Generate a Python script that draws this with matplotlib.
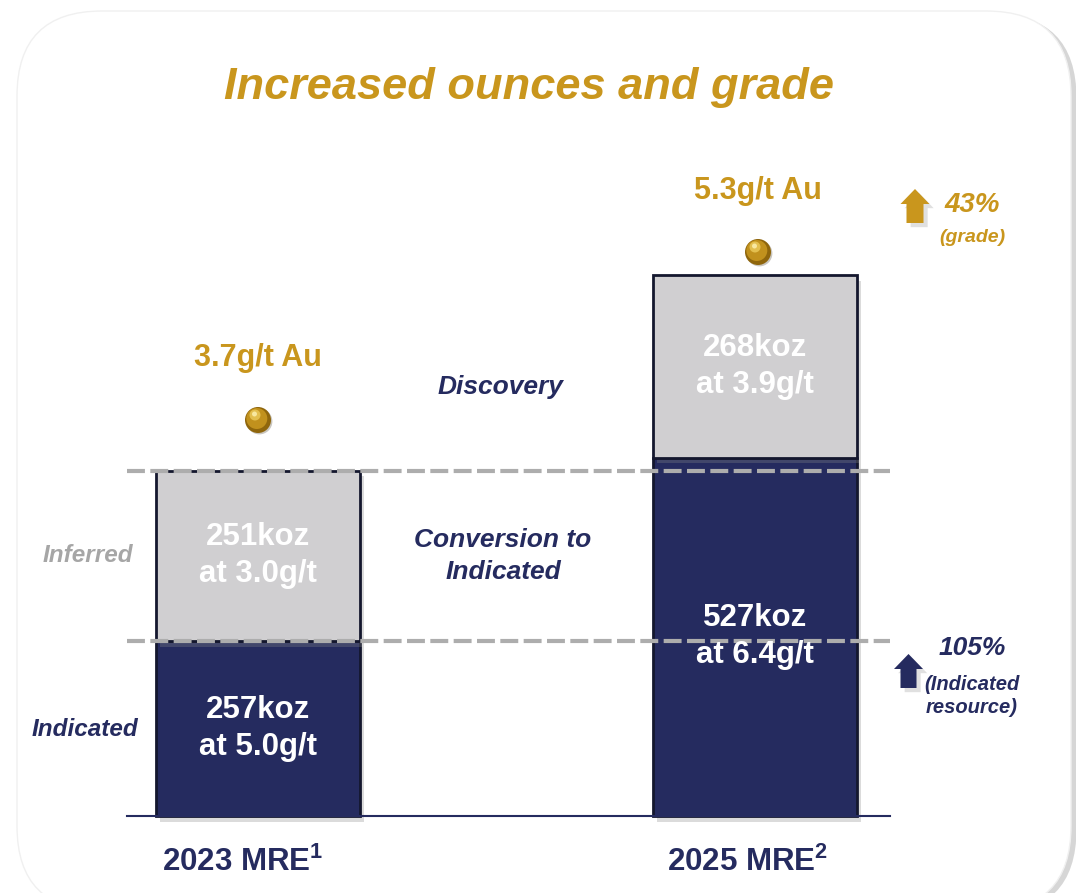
import matplotlib
matplotlib.use("Agg")
import matplotlib.pyplot as plt
from matplotlib.patches import FancyBboxPatch, Polygon, Circle
import matplotlib.patheffects as pe

# ---- data ----
categories = ["2023 MRE$^{\\mathbf{1}}$", "2025 MRE$^{\\mathbf{2}}$"]
indicated_koz = [257, 527]
inferred_koz = [251, 268]
indicated_grade = ["5.0g/t", "6.4g/t"]
inferred_grade = ["3.0g/t", "3.9g/t"]
total_grade = ["3.7g/t Au", "5.3g/t Au"]

NAVY = "#252b5f"
GOLD = "#c9961d"
LGRAY = "#d0cfd1"
TGRAY = "#a6a6a6"

W, H = 1076, 893
plt.rcParams['font.family'] = ['Liberation Sans', 'DejaVu Sans']
plt.rcParams['mathtext.fontset'] = 'custom'
plt.rcParams['mathtext.bf'] = 'Liberation Sans:bold'
plt.rcParams['mathtext.rm'] = 'Liberation Sans:bold'
fig = plt.figure(figsize=(W / 100, H / 100), dpi=100)
fig.patch.set_facecolor("white")

# background card (pixel coords)
bg = fig.add_axes([0, 0, 1, 1], zorder=0)
bg.set_xlim(0, W); bg.set_ylim(H, 0); bg.axis("off")
card = FancyBboxPatch((17, 11), 1054, 900, boxstyle="round,pad=0,rounding_size=85",
                      fc="white", ec="#f0f0f0", lw=1.0,
                      path_effects=[pe.SimplePatchShadow(offset=(4, -2), shadow_rgbFace="#9a9a9a", alpha=0.4),
                                    pe.Normal()])
bg.add_patch(card)

# data axes: x categories at 0,1 ; y in koz
ax = fig.add_axes([0, 0, 1, 1], zorder=1)
ax.patch.set_alpha(0)
pxu = 497.0          # pixels per x unit
c0 = 258.0           # pixel x of first category
scale = 0.68         # pixels per koz
base = 816.0         # pixel y of baseline (from top)
ax.set_xlim(-c0 / pxu, (W - c0) / pxu)
ax.set_ylim(-(H - base) / scale, base / scale)
ax.axis("off")

xs = [0, 1]
bw = 204 / pxu
shadow = [pe.SimplePatchShadow(offset=(3, -4), shadow_rgbFace="#888888", alpha=0.3), pe.Normal()]
ax.bar(xs, indicated_koz, width=bw, color=NAVY, edgecolor="#14172e", lw=2, zorder=3,
       path_effects=shadow)
ax.bar(xs, inferred_koz, bottom=indicated_koz, width=bw, color=LGRAY, edgecolor="#14172e",
       lw=2, zorder=3, path_effects=shadow)

# baseline and dashed reference lines
x_lo, x_hi = 127 / W, 890 / W
ax.axhline(0, xmin=x_lo, xmax=x_hi, color=NAVY, lw=1.5, zorder=4)
for yv in [indicated_koz[0], indicated_koz[0] + inferred_koz[0]]:
    ax.axhline(yv, xmin=x_lo, xmax=x_hi, color="#adadad", lw=3, ls=(0, (4.3, 1.3)), zorder=5)

# bar labels
for i in range(2):
    ax.text(xs[i], indicated_koz[i] / 2, f"{indicated_koz[i]}koz\nat {indicated_grade[i]}",
            ha="center", va="center", color="white", fontsize=22.5, fontweight="bold",
            linespacing=1.3, zorder=6)
    ax.text(xs[i], indicated_koz[i] + inferred_koz[i] / 2,
            f"{inferred_koz[i]}koz\nat {inferred_grade[i]}",
            ha="center", va="center", color="white", fontsize=22.5, fontweight="bold",
            linespacing=1.3, zorder=6)

# overlay in pixel coords for annotations
ov = fig.add_axes([0, 0, 1, 1], zorder=2)
ov.patch.set_alpha(0)
ov.set_xlim(0, W); ov.set_ylim(H, 0); ov.axis("off")

ov.text(529, 88, "Increased ounces and grade", ha="center", va="center", color=GOLD,
        fontsize=32.5, fontweight="bold", style="italic")

# grade labels and gold spheres
for (cx, ty, sy), lab in zip([(258, 358, 420), (758, 191, 252)], total_grade):
    ov.text(cx, ty, lab, ha="center", va="center", color=GOLD, fontsize=22, fontweight="bold")
    ov.add_patch(Circle((cx, sy), 13, fc="#8f660c", ec="none",
                        path_effects=[pe.SimplePatchShadow(offset=(1, -1), alpha=0.25), pe.Normal()]))
    ov.add_patch(Circle((cx - 1.2, sy - 1.5), 10.5, fc="#c1911d", ec="none"))
    ov.add_patch(Circle((cx - 3, sy - 5), 5.5, fc="#e3bf4f", ec="none"))
    ov.add_patch(Circle((cx - 3.5, sy - 6), 2.5, fc="#f8e8a0", ec="none"))

# category labels
for cx, lab in zip([243, 748], categories):
    ov.text(cx, 862, lab, ha="center", va="center", color=NAVY, fontsize=22.5, fontweight="bold")

# side labels
ov.text(88, 555, "Inferred", ha="center", va="center", color=TGRAY, fontsize=17.5,
        fontweight="bold", style="italic")
ov.text(85, 730, "Indicated", ha="center", va="center", color=NAVY, fontsize=17.5,
        fontweight="bold", style="italic")
ov.text(500, 387, "Discovery", ha="center", va="center", color=NAVY, fontsize=19,
        fontweight="bold", style="italic")
ov.text(503, 556, "Conversion to\nIndicated", ha="center", va="center", color=NAVY,
        fontsize=19, fontweight="bold", style="italic", linespacing=1.45)

ov.text(972, 205, "43%", ha="center", va="center", color=GOLD, fontsize=20,
        fontweight="bold", style="italic")
ov.text(972, 238, "(grade)", ha="center", va="center", color=GOLD, fontsize=14,
        fontweight="bold", style="italic")
ov.text(972, 648, "105%", ha="center", va="center", color=NAVY, fontsize=19,
        fontweight="bold", style="italic")
ov.text(972, 696, "(Indicated\nresource)", ha="center", va="center", color=NAVY, fontsize=14.5,
        fontweight="bold", style="italic", linespacing=1.3)

def up_arrow(cx, tip, head_base, bottom, hw, sw, color):
    pts = [(cx, tip), (cx + hw, head_base), (cx + sw, head_base), (cx + sw, bottom),
           (cx - sw, bottom), (cx - sw, head_base), (cx - hw, head_base)]
    ov.add_patch(Polygon(pts, closed=True, fc=color, ec="none",
                         path_effects=[pe.SimplePatchShadow(offset=(3, -3), shadow_rgbFace="#999999",
                                                            alpha=0.3), pe.Normal()]))

up_arrow(915, 189, 204, 223, 14.5, 8.5, GOLD)
up_arrow(908.5, 654, 669, 688, 14.5, 8, NAVY)

fig.savefig("out.png", dpi=100)
